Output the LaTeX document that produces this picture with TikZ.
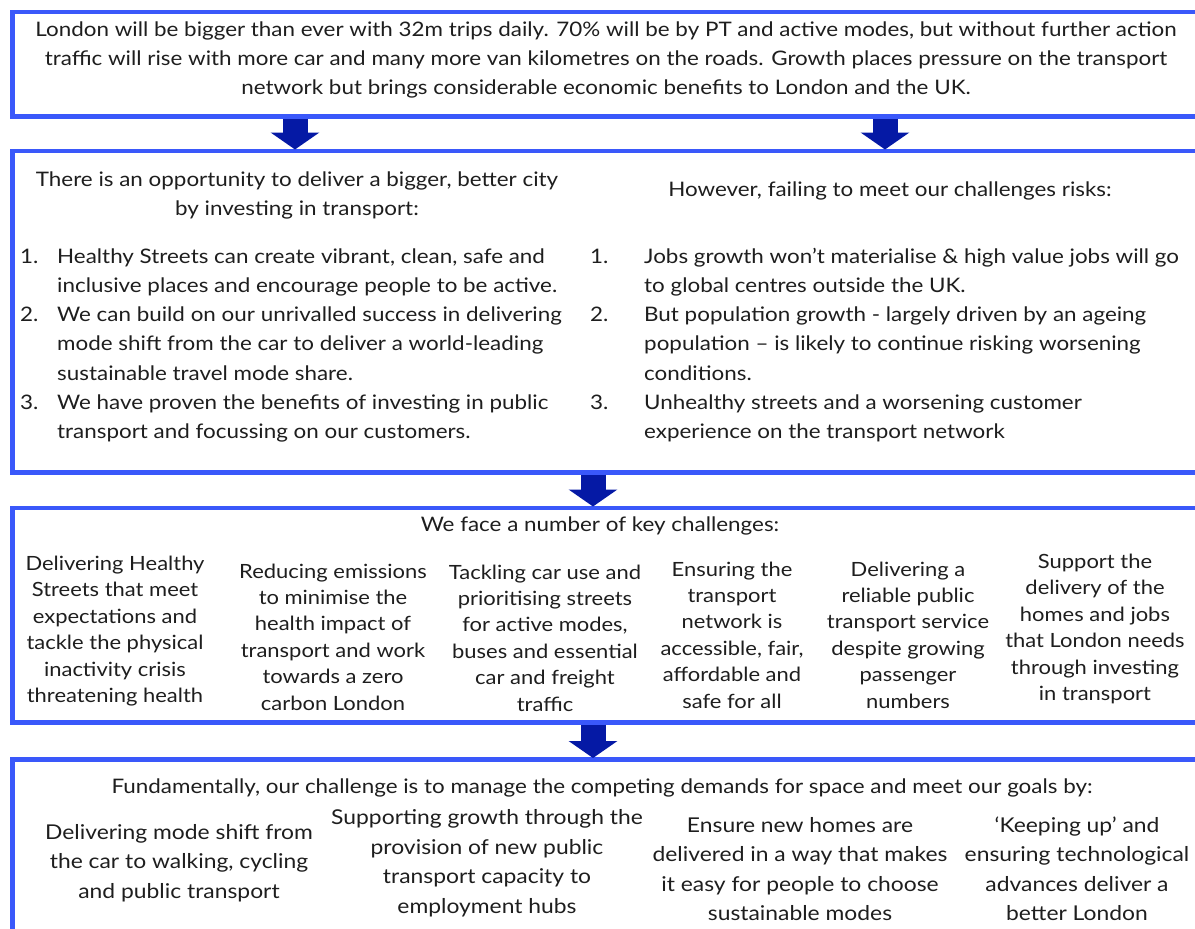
\documentclass[tikz,border=0pt]{standalone}
\usepackage{fontspec}
\setmainfont{Lato}[FakeStretch=1.12]
\usetikzlibrary{arrows.meta}
\definecolor{boxblue}{RGB}{58,88,250}
\definecolor{arrowblue}{RGB}{5,25,165}
\definecolor{txt}{RGB}{30,30,30}
\tikzset{
  panel/.style={draw=boxblue, line width=4.5pt, anchor=north west, minimum width=1250pt, inner sep=0pt},
  bigarrow/.style={draw=arrowblue, line width=25pt, -{Triangle[width=48pt,length=17pt]}, shorten >=-1pt},
  tx/.style={text=txt, inner sep=0pt, font=\fontsize{20}{29}\selectfont},
  ctx/.style={tx, align=center},
  lst/.style={text=txt, inner sep=0pt, anchor=west, font=\fontsize{20}{29.2}\selectfont},
  smx/.style={text=txt, inner sep=0pt, align=center, font=\fontsize{19.6}{26.4}\selectfont},
  bgx/.style={text=txt, inner sep=0pt, align=center, font=\fontsize{20.4}{29.5}\selectfont},
}
\begin{document}
\begin{tikzpicture}[x=1pt,y={(0pt,-1pt)}]
\clip (0,0) rectangle (1195,929);
\fill[white] (0,0) rectangle (1195,929);
% panels
\node[panel, minimum height=104.5pt] (b1) at (10,9.5) {};
\node[panel, minimum height=321.5pt] (b2) at (10,148.5) {};
\node[panel, minimum height=214.5pt] (b3) at (10,505.5) {};
\node[panel, minimum height=250pt] (b4) at (10,757) {};
% arrows
\draw[bigarrow] ([xshift=285pt]b1.south west) -- ([xshift=285pt]b2.north west);
\draw[bigarrow] ([xshift=875pt]b1.south west) -- ([xshift=875pt]b2.north west);
\draw[bigarrow] ([xshift=583pt]b2.south west) -- ([xshift=583pt]b3.north west);
\draw[bigarrow] ([xshift=583pt]b3.south west) -- ([xshift=583pt]b4.north west);
% box 1
\node[ctx] (t1) at (606,60) {London will be bigger than ever with 32m trips daily. 70\% will be by PT and active modes, but without further action\\ traffic will rise with more car and many more van kilometres on the roads. Growth places pressure on the transport\\ network but brings considerable economic benefits to London and the UK.};
% box 2
\node[ctx] (h2l) at (297,195) {There is an opportunity to deliver a bigger, better city\\ by investing in transport:};
\node[ctx] (h2r) at (890,191) {However, failing to meet our challenges risks:};
\node[lst] (l2l) at (20,345) {\begin{tabular}{@{}p{37pt}@{}l@{}}
1. & Healthy Streets can create vibrant, clean, safe and\\
   & inclusive places and encourage people to be active.\\
2. & We can build on our unrivalled success in delivering\\
   & mode shift from the car to deliver a world-leading\\
   & sustainable travel mode share.\\
3. & We have proven the benefits of investing in public\\
   & transport and focussing on our customers.
\end{tabular}};
\node[lst] (l2r) at (590,345) {\begin{tabular}{@{}p{54pt}@{}l@{}}
1. & Jobs growth won’t materialise \& high value jobs will go\\
   & to global centres outside the UK.\\
2. & But population growth - largely driven by an ageing\\
   & population – is likely to continue risking worsening\\
   & conditions.\\
3. & Unhealthy streets and a worsening customer\\
   & experience on the transport network
\end{tabular}};
% box 3
\node[ctx] (h3) at (600,526) {We face a number of key challenges:};
\node[smx] (c31) at (115,631) {Delivering Healthy\\ Streets that meet\\ expectations and\\ tackle the physical\\ inactivity crisis\\ threatening health};
\node[smx] (c32) at (333,637) {Reducing emissions\\ to minimise the\\ health impact of\\ transport and work\\ towards a zero\\ carbon London};
\node[smx] (c33) at (545,638) {Tackling car use and\\ prioritising streets\\ for active modes,\\ buses and essential\\ car and freight\\ traffic};
\node[smx] (c34) at (732,635) {Ensuring the\\ transport\\ network is\\ accessible, fair,\\ affordable and\\ safe for all};
\node[smx] (c35) at (908,635) {Delivering a\\ reliable public\\ transport service\\ despite growing\\ passenger\\ numbers};
\node[smx] (c36) at (1095,629) {Support the\\ delivery of the\\ homes and jobs\\ that London needs\\ through investing\\ in transport};
% box 4
\node[ctx] (h4) at (602,788) {Fundamentally, our challenge is to manage the competing demands for space and meet our goals by:};
\node[bgx] (c41) at (179,863) {Delivering mode shift from\\ the car to walking, cycling\\ and public transport};
\node[bgx] (c42) at (487,863) {Supporting growth through the\\ provision of new public\\ transport capacity to\\ employment hubs};
\node[bgx] (c43) at (800,869) {Ensure new homes are\\ delivered in a way that makes\\ it easy for people to choose\\ sustainable modes};
\node[bgx] (c44) at (1077,869) {‘Keeping up’ and\\ ensuring technological\\ advances deliver a\\ better London};
\end{tikzpicture}
\end{document}
